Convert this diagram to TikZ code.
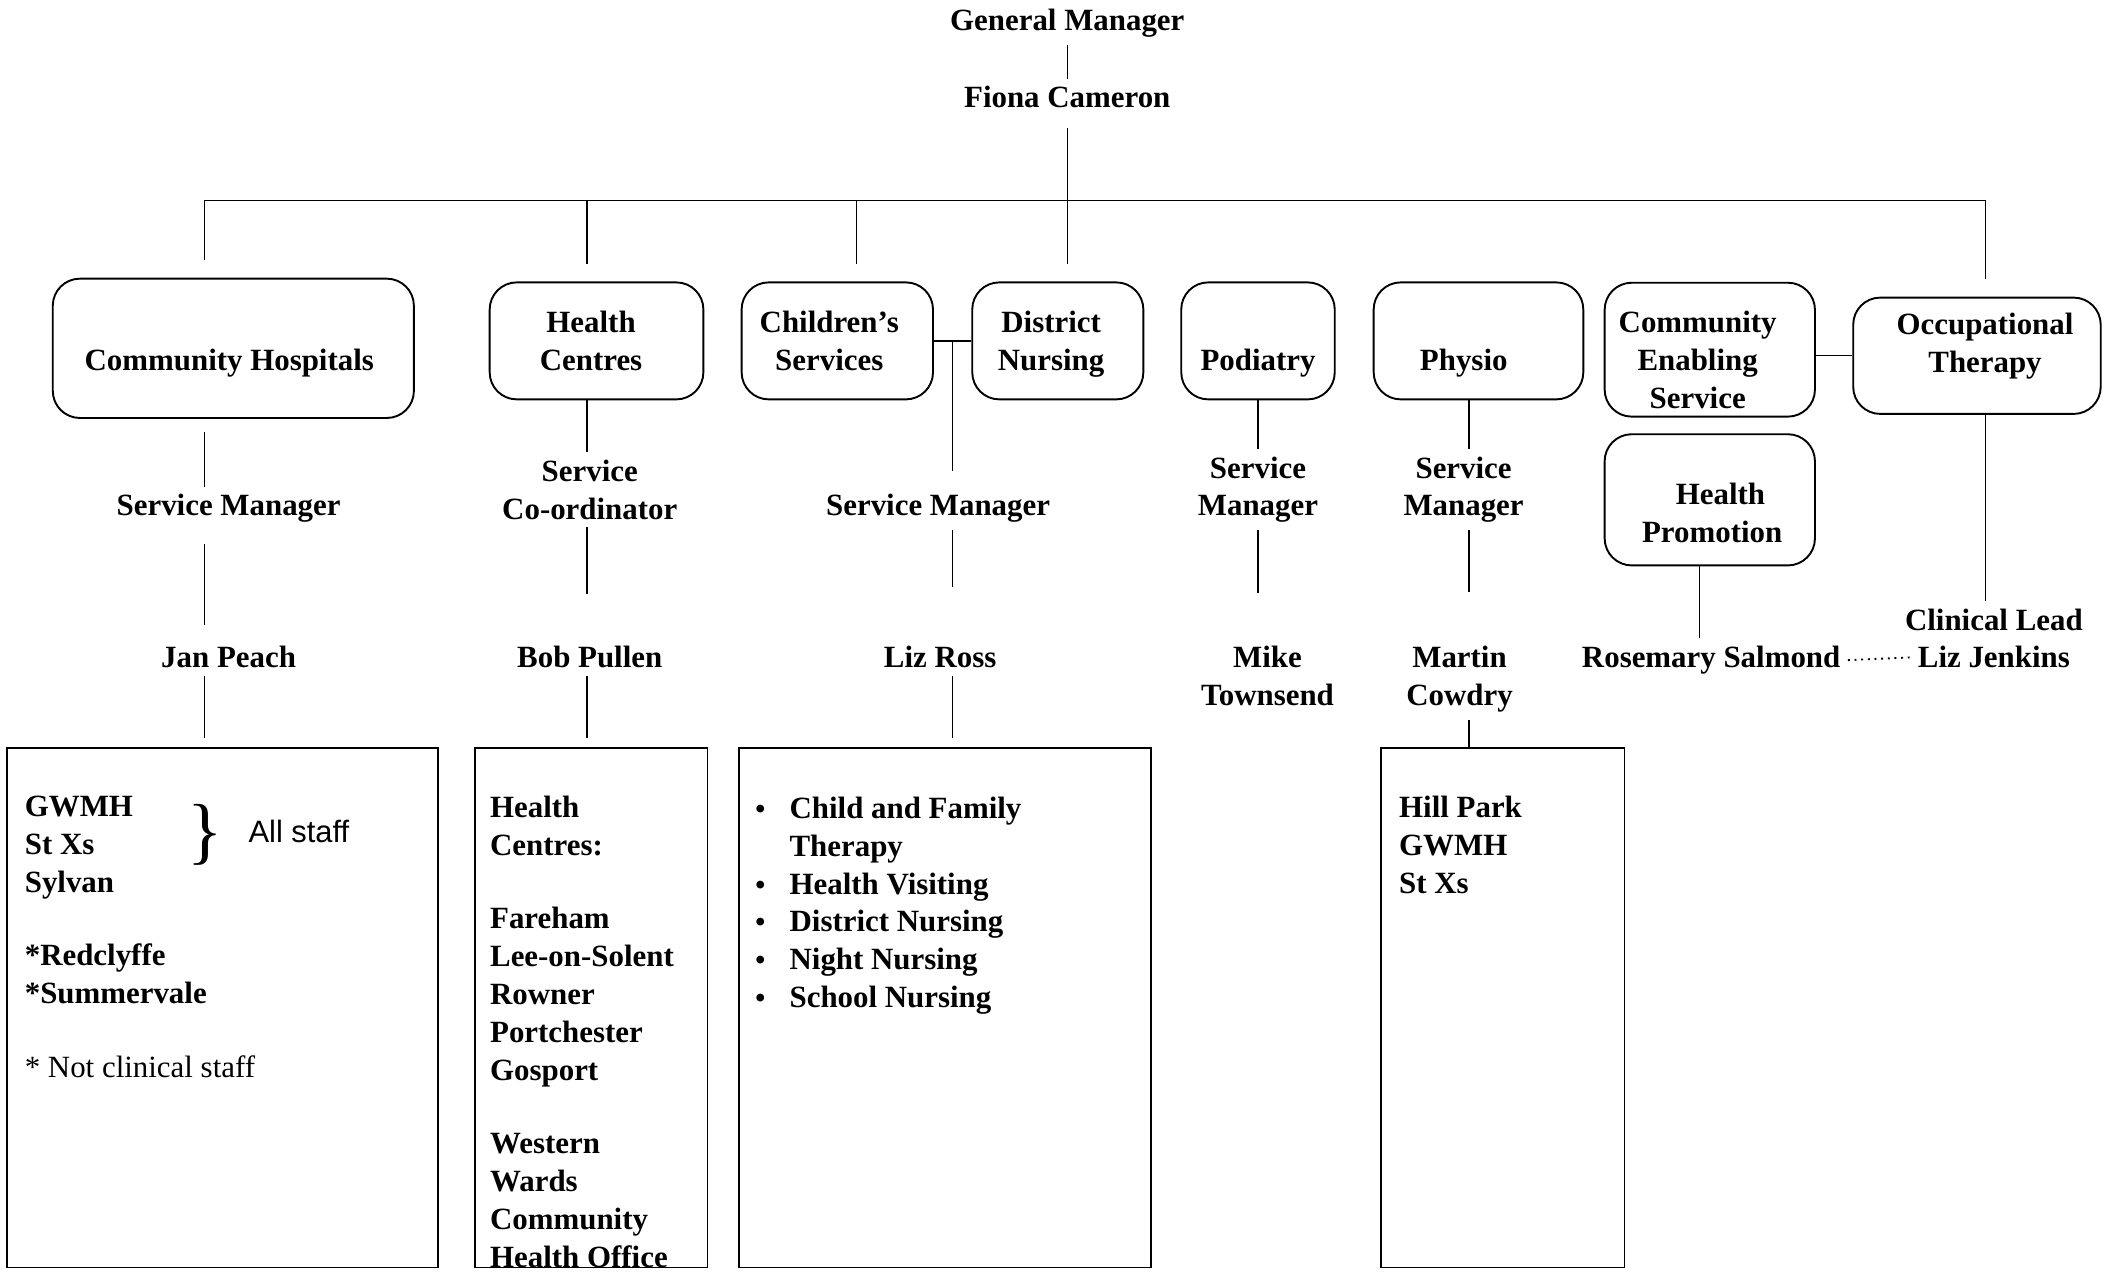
\documentclass[tikz,border=0pt]{standalone}
\usepackage{fontspec}
\setmainfont{Liberation Serif}
\setsansfont{Liberation Sans}
\usetikzlibrary{calc}

% box text, moved right by #1 and down by #2
\newcommand{\boxtext}[3]{\hspace*{#1}\raisebox{-#2}[\height][\depth]{\begin{tabular}{@{}c@{}}#3\end{tabular}}\hspace*{-#1}}

\begin{document}
\begin{tikzpicture}[x=0.02cm, y=-0.02cm, font=\bfseries\fontsize{13}{15.94}\selectfont]
		\tikzstyle{unit} = [draw, rounded corners=4mm, line width=0.8pt, inner sep=1pt]
		\tikzstyle{post} = [align=center, inner sep=3pt]
		\tikzstyle{list} = [draw, line width=0.7pt, minimum height=7.68cm]
		\tikzstyle{entry} = [align=left, anchor=north west, inner sep=0pt]
		\tikzstyle{link} = [draw, line width=0.55pt]
		\tikzstyle{trim} = [shorten >=#1]

		\useasboundingbox (0,0) rectangle (1568,940);

		\node[post]	at (789, 17)		(gm)	{General Manager};
		\node[post]	at (789, 72)		(fc)	{Fiona Cameron};

		\coordinate (b1) at (151, 148);
		\coordinate (b2) at (434, 148);
		\coordinate (b3) at (633, 148);
		\coordinate (b4) at (789, 148);
		\coordinate (b5) at (1468, 148);
		\coordinate (phx) at (1086, 148);
		\coordinate (hpx) at (1256.5, 148);

		\node[unit, minimum width=5.34cm, minimum height=2.06cm]	at (172.5, 257.5)	(ch)	{\boxtext{-1.7pt}{6.2pt}{Community Hospitals}};
		\node[unit, minimum width=3.16cm, minimum height=1.73cm]	at (441, 252)		(hc)	{\boxtext{-2.3pt}{1.1pt}{Health\\Centres}};
		\node[unit, minimum width=2.83cm, minimum height=1.73cm]	at (619, 252)		(cs)	{\boxtext{-3.4pt}{1.1pt}{Children's\\Services}};
		\node[unit, minimum width=2.53cm, minimum height=1.73cm]	at (782, 252)		(dn)	{\boxtext{-2.8pt}{1.1pt}{District\\Nursing}};
		\node[unit, minimum width=2.27cm, minimum height=1.73cm]	at (930, 252)		(pod)	{\boxtext{0pt}{9.1pt}{Podiatry}};
		\node[unit, minimum width=3.1cm, minimum height=1.73cm]		at (1093, 252)		(phy)	{\boxtext{-6.2pt}{9.1pt}{Physio}};
		\node[unit, minimum width=3.11cm, minimum height=1.98cm]	at (1264, 258.5)	(ces)	{\boxtext{-5.1pt}{5.7pt}{Community\\Enabling\\Service}};
		\node[unit, minimum width=3.66cm, minimum height=1.72cm]	at (1461.5, 263)	(ot)	{\boxtext{3.4pt}{-4pt}{Occupational\\Therapy}};
		\node[unit, minimum width=3.11cm, minimum height=1.94cm]	at (1264, 369.5)	(hp)	{\boxtext{1pt}{6.8pt}{\hspace*{7pt}Health\\Promotion}};

		\node[post]	at (169, 376)		(chsm)	{Service Manager};
		\node[post]	at (169, 486)		(jp)	{Jan Peach};
		\node[post]	at (436, 362)		(hcsc)	{Service\\Co-ordinator};
		\node[post]	at (436, 486)		(bp)	{Bob Pullen};
		\node[post]	at (693.5, 376)		(cssm)	{Service Manager};
		\node[post]	at (695, 486)		(lr)	{Liz Ross};
		\node[post]	at (930, 362)		(podsm)	{Service\\Manager};
		\node[post]	at (937, 500)		(mt)	{Mike\\Townsend};
		\node[post]	at (1082, 362)		(physm)	{Service\\Manager};
		\node[post]	at (1079, 502)		(mc)	{Martin\\Cowdry};
		\node[post]	at (1265, 488)		(rs)	{Rosemary Salmond};
		\node[post]	at (1474, 458)		(cl)	{Clinical Lead};
		\node[post]	at (1474, 486)		(lj)	{Liz Jenkins};

		\node[list, minimum width=6.38cm]	at (164.5, 745)		(chlist)	{};
		\node[list, minimum width=3.44cm]	at (437, 745)		(hclist)	{};
		\node[list, minimum width=6.09cm]	at (698.75, 745)	(cslist)	{};
		\node[list, minimum width=3.6cm]	at (1111, 745)		(phylist)	{};

		\node[entry]	at (18, 588)	(chent)	{GWMH\\St Xs\\Sylvan\\[15pt]*Redclyffe\\*Summervale\\[15pt]{\mdseries * Not clinical staff}};
		\node[inner sep=0pt]	at (152, 617)	(brace)	{\mdseries\fontsize{31}{31}\selectfont\}};
		\node[inner sep=0pt]	at (221, 615)	(all)	{\sffamily\mdseries All staff};
		\node[entry]	at (362, 588)	(hcent)	{Health\\Centres:\\[15pt]Fareham\\Lee-on-Solent\\Rowner\\Portchester\\Gosport\\[15pt]Western\\Wards\\Community\\Health Office};
		\node[entry]	at (558, 585)	(csent)	{\begin{tabular}{@{}l@{\hspace{0.36cm}}l@{}}
			\large\textbullet & Child and Family\\
			& Therapy\\
			\large\textbullet & Health Visiting\\
			\large\textbullet & District Nursing\\
			\large\textbullet & Night Nursing\\
			\large\textbullet & School Nursing
		\end{tabular}};
		\node[entry]	at (1034, 588)	(phyent)	{Hill Park\\GWMH\\St Xs};

		\path[link]
		(gm)	edge	(fc)
		(fc)	edge[shorten <=1.8mm]	(b4)
		(b1)	edge	(b5)
		(b1)	edge[trim=2.6mm]	(b1 |- ch.north)
		(b2)	edge[trim=2.6mm]	(b2 |- hc.north)
		(b3)	edge[trim=2.6mm]	(b3 |- cs.north)
		(b4)	edge[trim=2.6mm]	(b4 |- dn.north)
		(b5)	edge[trim=2.6mm]	(b5 |- ot.north);

		\path[link]
		(ch.south -| b1)	edge[shorten <=2mm]	(chsm.north -| b1)
		(chsm.south -| b1)	edge[shorten <=2mm, trim=2mm]	(jp.north -| b1)
		(jp.south -| b1)	edge[trim=1.4mm]	(chlist.north -| b1)
		(hc.south -| b2)	edge	(hcsc.north -| b2)
		(hcsc.south -| b2)	edge[trim=6.6mm]	(bp.north -| b2)
		(bp.south -| b2)	edge[trim=1.4mm]	(hclist.north -| b2);

		\coordinate (join) at ($(cs.east)!0.5!(dn.west)$);
		\path[link]
		(cs.east)	edge	(dn.west)
		(join)	edge[trim=2.3mm]	(cssm.north -| join)
		(cssm.south -| join)	edge[trim=7.7mm]	(lr.north -| join)
		(lr.south -| join)	edge[trim=1.4mm]	(cslist.north -| join);

		\path[link]
		(pod.south)	edge	(podsm.north)
		(podsm.south)	edge[trim=6.8mm]	(podsm.south |- mt.north)
		(phy.south -| phx)	edge	(physm.north -| phx)
		(physm.south -| phx)	edge[trim=6.8mm]	(mc.north -| phx)
		(mc.south -| phx)	edge	(phylist.north -| phx)
		(ces.east |- ot.west)	edge	(ot.west)
		(hp.south -| hpx)	edge	(rs.north -| hpx)
		(ot.south -| b5)	edge	(cl.north -| b5);

		\draw[dotted, line width=0.8pt] (rs.east) -- (lj.west);
		\end{tikzpicture}
\end{document}
